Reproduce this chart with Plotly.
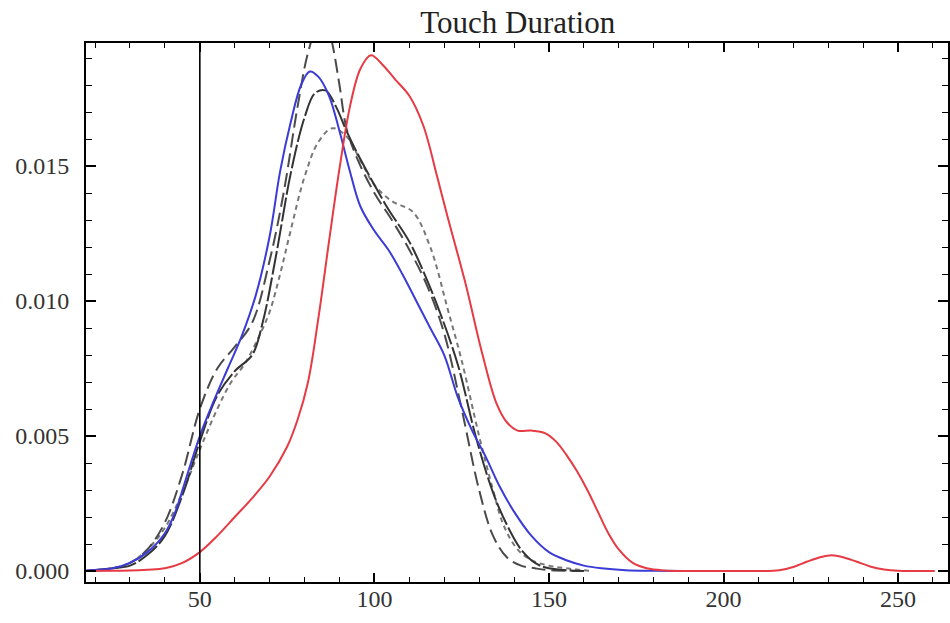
import plotly.graph_objects as go

# ---------------- data ----------------
title_text = "Touch Duration"
threshold_x = 50

red_x = [17.4, 25, 30, 35, 40, 45, 50, 55, 60, 65, 70, 75, 78, 81, 84, 87, 90, 93, 96, 99,
         102, 106, 110, 114, 118, 121, 126, 131, 135, 138, 141, 145, 149, 152, 155, 158, 161,
         164, 167, 170, 174, 178, 183, 190, 200, 210, 216, 220, 224, 228, 231, 234, 238, 242,
         246, 250, 255, 260.5]
red_y = [0, 0.00001, 0.00002, 0.00005, 0.0001, 0.0003, 0.0007, 0.0013, 0.0020, 0.0027, 0.0035,
         0.0046, 0.0056, 0.0070, 0.0094, 0.0122, 0.0149, 0.0172, 0.0186, 0.0191, 0.0188, 0.0182,
         0.0176, 0.0165, 0.0146, 0.0131, 0.0107, 0.0080, 0.0062, 0.0055, 0.0052, 0.0052, 0.0051,
         0.0048, 0.0043, 0.0037, 0.0030, 0.0022, 0.0014, 0.0008, 0.0003, 0.0001, 0.00002, 0, 0,
         0, 0.00003, 0.00015, 0.00035, 0.00052, 0.00058, 0.00052, 0.00035, 0.00017, 0.00006,
         0.00001, 0, 0]

blue_x = [17.4, 25, 30, 35, 40, 43, 46, 50, 54, 58, 62, 66, 70, 73, 76, 79, 81.5, 84, 87, 90,
          93, 96, 100, 104, 108, 112, 116, 120, 124, 128, 132, 136, 140, 145, 150, 155, 160,
          165, 172, 180, 189]
blue_y = [0.00002, 0.0001, 0.0003, 0.0007, 0.0014, 0.0022, 0.0034, 0.0050, 0.0063, 0.0075,
          0.0087, 0.0102, 0.0124, 0.0148, 0.0166, 0.0180, 0.0185, 0.0183, 0.0176, 0.0163,
          0.0148, 0.0135, 0.0126, 0.0119, 0.0110, 0.0100, 0.0090, 0.0080, 0.0064, 0.0052,
          0.0042, 0.0031, 0.0022, 0.0013, 0.0007, 0.0004, 0.0002, 0.0001, 0.00003, 0.00001, 0]

longdash_x = [17.4, 25, 30, 35, 40, 45, 50, 55, 60, 65, 70, 74, 78, 81, 84, 86, 88, 90, 92, 95,
              100, 105, 110, 115, 120, 125, 130, 134, 138, 142, 146, 150, 160]
longdash_y = [0, 0.0001, 0.0003, 0.0008, 0.0018, 0.0036, 0.0060, 0.0075, 0.0083, 0.0092,
              0.0115, 0.0140, 0.0172, 0.0192, 0.0203, 0.0205, 0.0195, 0.0180, 0.0164, 0.0153,
              0.0140, 0.0130, 0.0119, 0.0106, 0.0088, 0.0060, 0.0030, 0.0013, 0.0005, 0.0002,
              0.0001, 0.00003, 0]

dark_x = [17.4, 25, 30, 35, 40, 45, 50, 55, 60, 65, 68, 72, 76, 80, 83, 86, 89, 92, 95, 100,
          104, 110, 115, 119, 124, 129, 134, 138, 142, 146, 150, 160]
dark_y = [0, 0.0001, 0.0002, 0.0006, 0.0013, 0.0028, 0.0048, 0.0065, 0.0074, 0.0080, 0.0092,
          0.0118, 0.0147, 0.0168, 0.0177, 0.0178, 0.0172, 0.0163, 0.0155, 0.0143, 0.0134,
          0.0122, 0.0108, 0.0095, 0.0076, 0.0050, 0.0029, 0.0017, 0.0008, 0.0003, 0.0001, 0]

dotted_x = [17.4, 25, 30, 35, 40, 45, 50, 55, 59, 63, 67, 70, 73, 76, 80, 84, 88, 92, 96, 100,
            105, 111, 116, 121, 125, 130, 134, 137, 141, 145, 150, 155, 162]
dotted_y = [0, 0.0001, 0.0003, 0.0008, 0.0016, 0.0029, 0.0045, 0.0060, 0.0070, 0.0077,
            0.0087, 0.0096, 0.0110, 0.0126, 0.0146, 0.0159, 0.0164, 0.0161, 0.0152, 0.0143,
            0.0137, 0.0133, 0.0120, 0.0097, 0.0078, 0.0050, 0.0030, 0.0017, 0.0008, 0.0004,
            0.0002, 0.0001, 0]

x_range = [17.4, 264.3]
y_range = [-0.000407, 0.019556]

# ---------------- figure ----------------
fig = go.Figure()

fig.add_trace(go.Scatter(x=dotted_x, y=dotted_y, mode="lines",
                         line=dict(color="#777777", width=2, dash="5px,4px", shape="spline")))
fig.add_trace(go.Scatter(x=longdash_x, y=longdash_y, mode="lines",
                         line=dict(color="#4a4a4a", width=2, dash="14px,6px", shape="spline")))
fig.add_trace(go.Scatter(x=dark_x, y=dark_y, mode="lines",
                         line=dict(color="#333333", width=2, dash="24px,3px", shape="spline")))
fig.add_trace(go.Scatter(x=blue_x, y=blue_y, mode="lines",
                         line=dict(color="#3b3bd6", width=2, shape="spline")))
fig.add_trace(go.Scatter(x=red_x, y=red_y, mode="lines",
                         line=dict(color="#e63a44", width=2, shape="spline")))

fig.add_vline(x=threshold_x, line=dict(color="black", width=1.6))

serif = "Liberation Serif, Times New Roman, serif"

fig.update_layout(
    width=950, height=623,
    margin=dict(l=86, r=0, t=43, b=41),
    paper_bgcolor="white", plot_bgcolor="white",
    showlegend=False,
    font=dict(family=serif, color="#333333", size=24),
    title=dict(text=title_text, x=0.545, xref="container", xanchor="center",
               y=1 - 22 / 623, yref="container", yanchor="middle",
               font=dict(family=serif, size=31, color="#222222")),
)

fig.update_xaxes(
    range=x_range, showgrid=False, zeroline=False,
    showline=True, linecolor="black", linewidth=2, mirror="ticks",
    ticks="inside", ticklen=9, tickwidth=1.6, tickcolor="black",
    tick0=0, dtick=50, ticklabelstandoff=-6,
    minor=dict(ticks="inside", ticklen=5, tickwidth=1.4, tickcolor="black", dtick=10, tick0=0),
    tickfont=dict(family=serif, size=24, color="#333333"),
)
fig.update_yaxes(
    range=y_range, showgrid=False, zeroline=False,
    showline=True, linecolor="black", linewidth=2, mirror="ticks",
    ticks="inside", ticklen=10, tickwidth=1.6, tickcolor="black",
    tick0=0, dtick=0.005, tickformat=".3f", ticklabelstandoff=10,
    minor=dict(ticks="inside", ticklen=6, tickwidth=1.4, tickcolor="black", dtick=0.001, tick0=0),
    tickfont=dict(family=serif, size=24, color="#333333"),
)

fig.write_html("out.html")
